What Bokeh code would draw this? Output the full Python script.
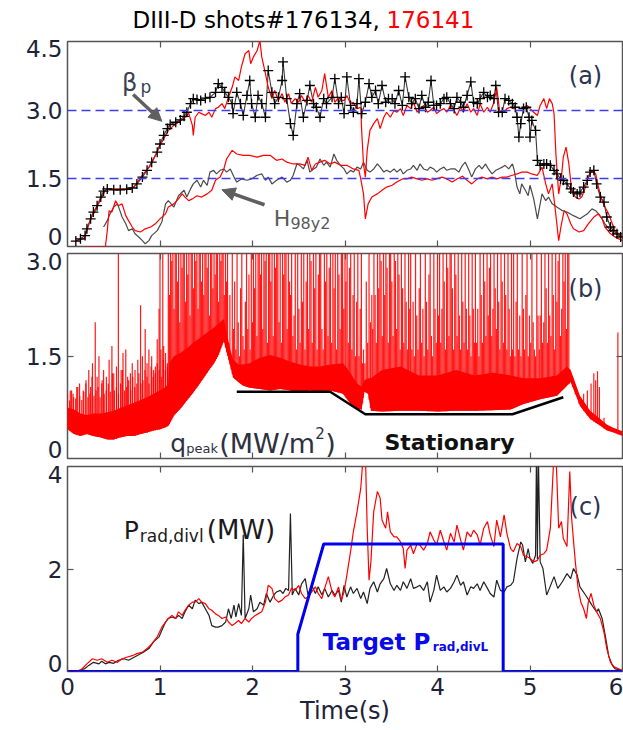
import numpy as np
from bokeh.plotting import figure
from bokeh.layouts import column
from bokeh.models import (Label, Arrow, NormalHead, LinearAxis, FixedTicker, Range1d, Span,
                          CustomJSTickFormatter)
from bokeh.embed import file_html
from bokeh.resources import INLINE

# ---------------- (a) poloidal beta and H98y2 ----------------
betap_134_t = [0.09, 0.14, 0.19, 0.21, 0.25, 0.28, 0.32, 0.36, 0.39, 0.43,
               0.50, 0.57, 0.64, 0.70, 0.75, 0.81, 0.86, 0.91, 0.97, 1.00,
               1.04, 1.08, 1.11, 1.17, 1.22, 1.26, 1.29, 1.33, 1.36, 1.40,
               1.44, 1.49, 1.54, 1.60, 1.63, 1.67, 1.70, 1.74, 1.78, 1.79,
               1.83, 1.87, 1.90, 1.94, 1.97, 1.99, 2.03, 2.06, 2.10, 2.14,
               2.17, 2.21, 2.24, 2.28, 2.32, 2.33, 2.37, 2.41, 2.44, 2.48,
               2.51, 2.55, 2.59, 2.62, 2.66, 2.69, 2.73, 2.77, 2.80, 2.86,
               2.89, 2.93, 2.96, 2.99, 3.02, 3.06, 3.09, 3.13, 3.15, 3.18,
               3.22, 3.26, 3.29, 3.33, 3.36, 3.40, 3.44, 3.47, 3.51, 3.54,
               3.58, 3.62, 3.65, 3.69, 3.72, 3.76, 3.80, 3.83, 3.87, 3.90,
               3.93, 3.96, 3.99, 4.03, 4.07, 4.10, 4.14, 4.18, 4.21, 4.25,
               4.28, 4.32, 4.36, 4.39, 4.43, 4.46, 4.50, 4.54, 4.57, 4.61,
               4.63, 4.66, 4.70, 4.73, 4.77, 4.81, 4.84, 4.86, 4.88, 4.90,
               4.93, 4.96, 4.99, 5.00, 5.02, 5.06, 5.08, 5.11, 5.15, 5.18,
               5.22, 5.26, 5.29, 5.33, 5.36, 5.40, 5.44, 5.47, 5.51, 5.54,
               5.58, 5.62, 5.65, 5.69, 5.72, 5.76, 5.80, 5.83, 5.87, 5.90,
               5.94, 5.98]
betap_134 = [0.12, 0.17, 0.24, 0.39, 0.61, 0.76, 0.90, 1.09, 1.22, 1.27,
             1.25, 1.25, 1.26, 1.29, 1.38, 1.53, 1.68, 1.86, 2.08, 2.26,
             2.45, 2.60, 2.69, 2.74, 2.79, 2.87, 2.96, 3.15, 3.26, 3.24,
             3.22, 3.27, 3.29, 3.40, 3.59, 3.51, 3.40, 3.29, 3.15, 2.93,
             3.40, 3.15, 2.89, 3.33, 3.66, 3.15, 2.85, 3.33, 3.15, 2.85,
             3.88, 3.40, 3.15, 3.29, 3.66, 4.07, 3.26, 2.71, 2.45, 3.15,
             3.37, 2.85, 3.22, 3.55, 3.15, 3.07, 2.85, 3.26, 3.15, 3.29,
             3.70, 3.15, 3.29, 2.93, 3.74, 3.11, 2.96, 3.15, 3.70, 2.93,
             3.18, 3.59, 3.29, 3.44, 3.15, 3.55, 3.18, 3.26, 3.26, 3.15,
             3.44, 3.11, 3.74, 3.29, 3.15, 3.26, 3.04, 3.33, 3.07, 3.18,
             3.66, 3.11, 3.11, 3.15, 3.26, 3.29, 3.15, 3.04, 3.29, 3.18,
             3.07, 3.33, 3.63, 3.18, 3.15, 3.26, 3.40, 3.29, 3.33, 3.26,
             3.55, 2.96, 2.96, 3.26, 3.22, 3.15, 3.07, 2.85, 2.41, 2.71,
             3.04, 3.07, 2.85, 2.41, 2.78, 2.56, 1.90, 1.79, 1.82, 1.82,
             1.79, 1.68, 1.60, 1.49, 1.46, 1.38, 1.27, 1.20, 1.16, 1.20,
             1.31, 1.46, 1.64, 1.68, 1.38, 1.09, 0.98, 0.65, 0.43, 0.35,
             0.28, 0.21]

betap_141_t = [0.10, 0.18, 0.21, 0.25, 0.30, 0.36, 0.41, 0.46, 0.55, 0.64,
               0.72, 0.77, 0.82, 0.90, 0.95, 1.00, 1.06, 1.09, 1.15, 1.20,
               1.26, 1.31, 1.35, 1.36, 1.38, 1.42, 1.45, 1.49, 1.53, 1.56,
               1.60, 1.63, 1.67, 1.70, 1.74, 1.78, 1.81, 1.85, 1.88, 1.92,
               1.96, 1.98, 2.01, 2.05, 2.08, 2.10, 2.14, 2.17, 2.21, 2.24,
               2.28, 2.32, 2.35, 2.39, 2.42, 2.46, 2.50, 2.53, 2.57, 2.60,
               2.64, 2.68, 2.71, 2.75, 2.78, 2.82, 2.86, 2.89, 2.93, 2.96,
               2.99, 3.02, 3.06, 3.09, 3.13, 3.17, 3.18, 3.20, 3.22, 3.24,
               3.27, 3.31, 3.35, 3.38, 3.42, 3.45, 3.49, 3.53, 3.56, 3.60,
               3.63, 3.67, 3.71, 3.74, 3.78, 3.81, 3.85, 3.89, 3.92, 3.96,
               3.99, 4.03, 4.07, 4.10, 4.14, 4.18, 4.21, 4.25, 4.28, 4.32,
               4.36, 4.39, 4.43, 4.46, 4.50, 4.54, 4.57, 4.61, 4.64, 4.67,
               4.72, 4.75, 4.79, 4.82, 4.86, 4.91, 4.97, 5.00, 5.04, 5.08,
               5.11, 5.15, 5.18, 5.21, 5.24, 5.26, 5.28, 5.31, 5.34, 5.36,
               5.39, 5.42, 5.45, 5.49, 5.53, 5.56, 5.60, 5.63, 5.67, 5.71,
               5.74, 5.78, 5.81, 5.85, 5.89, 5.92, 5.96, 6.00]
betap_141 = [0.13, 0.17, 0.35, 0.61, 0.79, 1.05, 1.24, 1.27, 1.27, 1.27,
             1.31, 1.46, 1.60, 1.79, 2.01, 2.23, 2.45, 2.56, 2.67, 2.74,
             2.82, 2.94, 2.67, 2.45, 2.85, 2.96, 2.93, 2.89, 2.96, 2.85,
             3.04, 3.07, 3.15, 3.04, 3.29, 3.51, 3.74, 3.66, 3.96, 4.25,
             4.32, 4.03, 4.18, 4.32, 4.54, 4.18, 3.81, 3.51, 3.26, 3.44,
             3.22, 3.37, 3.18, 3.37, 3.15, 3.26, 3.18, 3.33, 3.18, 3.33,
             3.18, 3.51, 3.29, 3.44, 3.81, 3.29, 3.44, 3.18, 3.29, 3.22,
             3.22, 3.33, 3.15, 3.18, 3.04, 3.07, 2.56, 1.82, 1.53, 2.12,
             2.56, 2.71, 2.82, 2.60, 2.85, 2.96, 2.85, 3.00, 2.96, 3.04,
             2.89, 3.11, 3.04, 3.18, 2.96, 3.04, 3.11, 2.96, 3.00, 3.07,
             2.93, 3.00, 3.04, 2.96, 3.11, 3.00, 2.89, 3.07, 2.96, 3.15,
             2.96, 3.04, 2.89, 3.15, 2.96, 3.07, 2.96, 3.18, 3.51, 3.00,
             2.96, 3.04, 3.07, 3.04, 3.07, 3.04, 3.11, 3.04, 2.96, 2.89,
             3.11, 3.26, 3.04, 3.26, 3.15, 2.93, 2.04, 1.16, 1.53, 1.97,
             2.19, 1.82, 1.24, 1.09, 1.05, 1.09, 1.31, 1.53, 1.68, 1.60,
             1.31, 1.01, 0.87, 0.72, 0.50, 0.35, 0.28, 0.21]

h98_134_t = [0.39, 0.43, 0.46, 0.50, 0.54, 0.56, 0.59, 0.63, 0.66, 0.70,
             0.73, 0.77, 0.81, 0.84, 0.88, 0.91, 0.97, 1.02, 1.06, 1.09,
             1.15, 1.20, 1.26, 1.29, 1.33, 1.36, 1.40, 1.44, 1.47, 1.51,
             1.54, 1.58, 1.61, 1.65, 1.69, 1.72, 1.76, 1.80, 1.83, 1.88,
             1.94, 1.99, 2.05, 2.10, 2.14, 2.17, 2.21, 2.26, 2.32, 2.37,
             2.41, 2.44, 2.48, 2.51, 2.55, 2.59, 2.62, 2.66, 2.69, 2.73,
             2.77, 2.80, 2.84, 2.88, 2.91, 2.95, 2.99, 3.02, 3.06, 3.09,
             3.13, 3.17, 3.20, 3.24, 3.27, 3.31, 3.35, 3.38, 3.42, 3.45,
             3.49, 3.53, 3.56, 3.60, 3.63, 3.67, 3.71, 3.74, 3.78, 3.81,
             3.85, 3.89, 3.92, 3.96, 3.99, 4.03, 4.07, 4.10, 4.14, 4.19,
             4.23, 4.27, 4.30, 4.34, 4.37, 4.41, 4.45, 4.48, 4.52, 4.55,
             4.59, 4.63, 4.66, 4.70, 4.73, 4.77, 4.81, 4.83, 4.86, 4.89,
             4.91, 4.95, 4.98, 5.00, 5.04, 5.08, 5.11, 5.13, 5.17, 5.20,
             5.24, 5.29, 5.35, 5.40, 5.47, 5.54, 5.62, 5.67, 5.71, 5.74,
             5.78, 5.81, 5.87, 5.92, 6.00]
h98_134 = [0.43, 0.57, 0.72, 0.87, 0.94, 0.83, 0.65, 0.50, 0.35, 0.39,
           0.28, 0.21, 0.13, 0.06, 0.13, 0.24, 0.35, 0.54, 0.94, 1.01,
           0.87, 1.12, 1.24, 1.09, 1.27, 1.38, 1.46, 1.31, 1.46, 1.35,
           1.64, 1.68, 1.60, 1.68, 1.71, 1.64, 1.71, 1.53, 1.42, 1.49,
           1.46, 1.49, 1.57, 1.60, 1.46, 1.53, 1.38, 1.46, 1.53, 1.42,
           1.46, 1.57, 1.82, 1.79, 1.71, 1.90, 1.64, 1.71, 1.75, 1.93,
           1.79, 1.86, 1.75, 2.04, 1.90, 1.79, 1.71, 1.60, 1.68, 1.64,
           1.75, 1.71, 1.86, 1.68, 1.64, 1.71, 1.82, 1.75, 1.64, 1.68,
           1.64, 1.71, 1.64, 1.71, 1.60, 1.68, 1.71, 1.79, 1.68, 1.82,
           1.71, 1.68, 1.75, 1.71, 1.64, 1.71, 1.75, 1.68, 1.71, 1.71,
           1.64, 1.79, 1.86, 1.68, 1.53, 1.71, 1.79, 1.71, 1.82, 1.71,
           1.60, 1.68, 1.71, 1.75, 1.79, 1.71, 1.82, 1.68, 1.31, 1.16,
           1.38, 1.24, 1.12, 1.35, 1.05, 0.61, 0.94, 1.16, 1.01, 1.09,
           0.94, 0.87, 0.79, 0.76, 0.68, 0.61, 0.72, 0.83, 0.79, 0.72,
           0.61, 0.50, 0.35, 0.28, 0.21]

h98_141_t = [0.21, 0.41, 0.43, 0.45, 0.48, 0.52, 0.55, 0.59, 0.63, 0.66,
             0.70, 0.73, 0.79, 0.84, 0.90, 0.95, 1.00, 1.06, 1.09, 1.15,
             1.20, 1.24, 1.27, 1.31, 1.35, 1.40, 1.45, 1.51, 1.56, 1.60,
             1.65, 1.69, 1.72, 1.78, 1.83, 1.90, 1.97, 2.05, 2.12, 2.19,
             2.26, 2.32, 2.37, 2.44, 2.51, 2.57, 2.60, 2.64, 2.68, 2.73,
             2.78, 2.84, 2.89, 2.95, 3.02, 3.09, 3.15, 3.17, 3.20, 3.22,
             3.25, 3.29, 3.35, 3.40, 3.45, 3.51, 3.56, 3.62, 3.67, 3.72,
             3.78, 3.83, 3.89, 3.94, 3.99, 4.05, 4.10, 4.16, 4.21, 4.27,
             4.32, 4.37, 4.43, 4.48, 4.54, 4.59, 4.64, 4.70, 4.75, 4.81,
             4.86, 4.91, 4.97, 5.02, 5.08, 5.13, 5.17, 5.20, 5.24, 5.27,
             5.31, 5.34, 5.37, 5.40, 5.44, 5.47, 5.53, 5.58, 5.63, 5.69,
             5.74, 5.78, 5.81, 5.87, 5.92, 6.00]
h98_141 = [0.00, 0.00, 0.35, 0.79, 0.76, 1.01, 0.90, 0.94, 0.68, 0.57,
           0.43, 0.35, 0.32, 0.39, 0.43, 0.50, 0.61, 0.72, 0.87, 0.94,
           1.05, 1.16, 1.09, 1.01, 1.05, 1.12, 1.09, 1.16, 1.24, 1.46,
           1.53, 1.71, 1.93, 2.12, 2.04, 2.01, 2.01, 1.97, 2.01, 2.01,
           1.90, 1.93, 1.86, 1.82, 1.82, 1.79, 1.97, 1.68, 1.82, 1.86,
           1.90, 1.82, 1.86, 1.79, 1.79, 1.71, 1.68, 1.49, 1.16, 0.61,
           0.94, 1.09, 1.16, 1.24, 1.31, 1.35, 1.42, 1.49, 1.49, 1.53,
           1.49, 1.46, 1.49, 1.46, 1.49, 1.53, 1.49, 1.42, 1.49, 1.55,
           1.46, 1.38, 1.49, 1.53, 1.49, 1.53, 1.49, 1.53, 1.53, 1.57,
           1.60, 1.64, 1.64, 1.60, 1.57, 1.75, 1.38, 1.16, 1.38, 0.87,
           0.13, 0.50, 0.79, 0.72, 0.50, 0.39, 0.32, 0.35, 0.50, 0.65,
           0.72, 0.61, 0.43, 0.28, 0.21, 0.13]

reference_levels = [1.5, 3.0]

# ---------------- (b) peak divertor heat flux, shot 176141 ----------------
q_env_t = [0.00, 0.07, 0.14, 0.21, 0.28, 0.36, 0.43, 0.50, 0.57, 0.64,
           0.72, 0.79, 0.86, 0.93, 1.00, 1.06, 1.09, 1.10, 1.15, 1.22,
           1.29, 1.36, 1.44, 1.51, 1.58, 1.63, 1.69, 1.72, 1.76, 1.79,
           1.85, 1.90, 1.97, 2.08, 2.19, 2.30, 2.41, 2.51, 2.62, 2.73,
           2.84, 2.98, 3.06, 3.13, 3.18, 3.21, 3.25, 3.28, 3.40, 3.60,
           3.80, 4.00, 4.20, 4.40, 4.60, 4.79, 4.93, 5.11, 5.29, 5.40,
           5.44, 5.54, 5.65, 5.76, 5.83, 5.90, 6.00]
q_floor = [0.43, 0.36, 0.33, 0.36, 0.33, 0.31, 0.28, 0.28, 0.31, 0.33,
           0.33, 0.36, 0.38, 0.41, 0.43, 0.46, 0.48, 0.50, 0.63, 0.73,
           0.85, 0.97, 1.12, 1.26, 1.39, 1.51, 1.73, 1.56, 1.36, 1.19,
           1.12, 1.07, 1.04, 1.02, 1.00, 1.02, 1.00, 0.97, 1.00, 0.97,
           1.00, 0.95, 0.80, 0.73, 0.72, 0.98, 0.95, 0.70, 0.69, 0.70,
           0.70, 0.69, 0.70, 0.70, 0.71, 0.72, 0.80, 0.87, 0.92, 1.07,
           1.12, 0.77, 0.58, 0.48, 0.41, 0.38, 0.33]
q_dense_top = [0.75, 0.72, 0.66, 0.64, 0.66, 0.66, 0.68, 0.70, 0.74, 0.78,
               0.82, 0.86, 0.90, 0.95, 1.00, 1.05, 1.10, 1.40, 1.50, 1.55,
               1.62, 1.70, 1.78, 1.85, 1.92, 1.98, 2.05, 1.85, 1.60, 1.45,
               1.38, 1.38, 1.40, 1.48, 1.52, 1.48, 1.42, 1.38, 1.35, 1.35,
               1.38, 1.40, 1.25, 1.10, 1.05, 1.15, 1.18, 1.18, 1.30, 1.35,
               1.22, 1.22, 1.30, 1.22, 1.26, 1.22, 1.18, 1.18, 1.22, 1.35,
               1.30, 0.92, 0.70, 0.58, 0.50, 0.45, 0.40]

# isolated ELM spikes before the heating step
q_elm_early_t = [0.03, 0.06, 0.10, 0.13, 0.17, 0.20, 0.23, 0.25, 0.27, 0.30,
                 0.32, 0.34, 0.37, 0.39, 0.42, 0.45, 0.48, 0.50, 0.53, 0.55,
                 0.58, 0.60, 0.63, 0.65, 0.68, 0.70, 0.73, 0.76, 0.79, 0.81,
                 0.84, 0.86, 0.88, 0.91, 0.93, 0.95, 0.97, 0.99, 1.00, 1.01,
                 1.03, 1.04, 1.06, 1.08]
q_elm_early = [1.00, 0.95, 1.05, 1.10, 1.00, 1.15, 1.30, 1.05, 1.40, 2.00,
               1.20, 1.50, 1.10, 1.30, 1.20, 1.45, 1.65, 1.25, 1.35, 3.10,
               1.30, 1.55, 1.60, 1.20, 1.25, 1.40, 1.30, 1.45, 2.25, 1.50,
               1.90, 1.40, 1.60, 1.50, 1.30, 1.35, 1.75, 2.20, 3.10, 1.60,
               3.10, 1.65, 1.55, 1.40]

# ELM peaks, evenly sampled over each time window (start, end)
q_elm_windows = [(0.00, 1.08), (1.09, 1.72), (1.73, 2.00), (2.01, 2.40), (2.41, 3.00),
                 (3.01, 3.19), (3.20, 3.29), (3.30, 3.70), (3.71, 4.00),
                 (4.01, 4.40), (4.41, 4.80), (4.81, 5.10), (5.11, 5.42)]
q_elm_peaks = [
    [0.95, 0.85, 1.00, 0.90, 0.88, 1.05, 0.92, 0.86, 0.98, 1.10, 0.90, 0.95, 1.20, 0.92, 1.00,
     1.05, 0.90, 1.15, 0.95, 1.00, 1.10, 0.98, 1.25, 1.00, 1.05, 0.95, 1.10, 1.30, 1.00, 1.05,
     1.15, 1.00, 1.20, 1.05, 1.10, 1.25, 1.10, 1.15, 1.30, 1.20, 1.10, 1.35, 1.20, 1.25, 1.40,
     1.30, 1.20, 1.45, 1.30, 1.35],
    [3.2, 2.4, 3.2, 2.9, 3.2, 2.2, 3.2, 3.2, 2.6, 3.2, 2.0, 3.2, 2.8, 3.2, 3.2, 2.3, 3.2, 2.7,
     3.2, 2.1, 3.2, 3.2, 2.5, 3.2, 2.9, 3.2, 2.2, 3.2, 3.2, 2.6, 3.2, 2.4, 3.2, 3.2, 2.8, 3.2,
     2.1, 3.2, 3.2, 2.5, 3.2, 2.7, 3.2, 3.2, 2.3, 3.2, 2.9, 3.2, 3.2, 2.4, 3.2, 2.6],
    [3.2, 1.7, 2.4, 1.5, 3.2, 1.9, 2.6, 1.6, 3.2, 2.0, 1.5, 2.5, 3.2, 1.8, 1.6, 2.3, 3.2, 1.9,
     2.7, 1.6, 3.2, 2.0],
    [3.2, 2.5, 3.2, 1.8, 3.2, 3.2, 2.7, 3.2, 1.9, 3.2, 2.9, 3.2, 1.7, 3.2, 3.2, 2.6, 3.2, 1.8,
     3.2, 2.8, 3.2, 3.2, 2.0, 3.2, 1.7, 3.2, 2.7, 3.2, 3.2, 1.9, 3.2, 2.6],
    [2.4, 3.2, 1.8, 2.1, 3.2, 1.6, 3.2, 2.2, 1.7, 3.2, 2.3, 3.2, 1.6, 2.6, 3.2, 1.9, 3.2, 2.9,
     1.7, 3.2, 2.5, 3.2, 1.6, 2.7, 3.2, 3.2, 1.9, 1.6, 3.2, 2.6, 3.2, 1.8, 2.8, 3.2, 1.7, 3.2,
     2.5, 3.2, 1.6, 3.2, 2.7, 1.9, 3.2, 3.2, 2.2, 3.2],
    [2.6, 3.2, 1.7, 2.8, 3.2, 1.6, 2.4, 3.2, 1.5, 2.3, 3.2, 1.5, 2.2, 3.2, 1.4],
    [1.6, 1.4, 2.6, 1.7, 3.2, 2.0, 2.4],
    [1.9, 3.2, 2.4, 1.7, 3.2, 2.5, 3.2, 2.9, 1.8, 3.2, 2.4, 3.2, 2.8, 1.7, 3.2, 3.2, 2.6, 1.8,
     3.2, 2.9, 1.9, 3.2, 2.7, 1.6, 3.2, 2.5, 1.7, 3.2, 2.3, 1.6, 3.2, 2.2],
    [3.2, 1.6, 2.3, 1.5, 3.2, 2.1, 1.6, 2.5, 3.2, 1.7, 2.2, 1.5, 3.2, 2.3, 1.6, 2.7, 3.2, 1.8,
     1.5, 3.2, 2.2, 1.7, 3.2],
    [2.1, 3.2, 1.7, 2.2, 3.2, 2.6, 1.6, 3.2, 2.8, 1.8, 3.2, 3.2, 2.5, 1.6, 3.2, 2.7, 1.8, 3.2,
     2.1, 1.6, 3.2, 2.3, 1.7, 3.2, 2.2, 1.6, 3.2, 2.1, 1.5, 3.2, 2.2, 1.7],
    [3.2, 1.7, 2.2, 1.5, 3.2, 2.4, 1.7, 3.2, 2.6, 1.8, 3.2, 2.1, 2.8, 3.2, 1.8, 2.2, 3.2, 2.5,
     1.9, 3.2, 2.3, 1.6, 3.2, 2.6, 1.7, 3.2, 2.4, 1.6, 3.2, 2.2, 1.5, 3.2],
    [1.6, 3.2, 1.5, 2.3, 3.2, 1.6, 2.1, 1.5, 3.2, 2.2, 1.6, 2.4, 3.2, 1.5, 2.1, 1.7, 3.2, 2.0,
     1.6, 1.5, 3.2, 2.1, 1.6],
    [2.1, 3.2, 1.7, 2.0, 3.2, 2.5, 1.7, 3.2, 2.1, 1.8, 3.2, 2.4, 1.6, 3.2, 2.3, 2.9, 3.2, 1.8,
     2.2, 3.2, 2.6, 3.2, 1.9, 3.2, 3.2],
]

# spikes during the ramp-down
q_elm_late_t = [5.46, 5.49, 5.53, 5.58, 5.62, 5.66, 5.69, 5.71, 5.73, 5.75, 5.80, 5.95]
q_elm_late = [1.20, 1.00, 0.90, 0.95, 1.00, 1.10, 1.25, 1.15, 1.28, 1.05, 0.60, 1.85]

stationary_t = [1.83, 2.84, 3.22, 4.81, 5.36]
stationary_q = [0.98, 0.98, 0.65, 0.65, 0.90]

# ---------------- (c) lower divertor radiated power ----------------
prad_134_t = [0.01, 0.10, 0.18, 0.23, 0.28, 0.34, 0.37, 0.41, 0.45, 0.50,
              0.55, 0.61, 0.66, 0.72, 0.77, 0.82, 0.88, 0.93, 0.99, 1.02,
              1.06, 1.09, 1.13, 1.17, 1.20, 1.24, 1.27, 1.31, 1.35, 1.38,
              1.42, 1.45, 1.49, 1.53, 1.56, 1.60, 1.63, 1.67, 1.71, 1.74,
              1.77, 1.80, 1.82, 1.85, 1.88, 1.90, 1.92, 1.96, 1.98, 2.01,
              2.05, 2.08, 2.12, 2.15, 2.19, 2.23, 2.26, 2.30, 2.33, 2.36,
              2.39, 2.41, 2.43, 2.46, 2.50, 2.53, 2.57, 2.60, 2.64, 2.68,
              2.71, 2.75, 2.78, 2.82, 2.86, 2.89, 2.93, 2.96, 2.99, 3.02,
              3.06, 3.09, 3.13, 3.17, 3.20, 3.24, 3.27, 3.31, 3.35, 3.38,
              3.42, 3.45, 3.49, 3.53, 3.56, 3.60, 3.63, 3.67, 3.71, 3.74,
              3.78, 3.81, 3.85, 3.89, 3.92, 3.96, 3.99, 4.03, 4.07, 4.10,
              4.14, 4.18, 4.21, 4.25, 4.28, 4.32, 4.36, 4.39, 4.43, 4.46,
              4.50, 4.54, 4.57, 4.61, 4.64, 4.68, 4.72, 4.75, 4.79, 4.82,
              4.86, 4.90, 4.92, 4.95, 4.98, 5.00, 5.03, 5.06, 5.07, 5.08,
              5.09, 5.11, 5.14, 5.18, 5.21, 5.26, 5.30, 5.35, 5.40, 5.44,
              5.47, 5.51, 5.54, 5.60, 5.65, 5.68, 5.72, 5.74, 5.78, 5.82,
              5.85, 5.89, 5.92, 6.00]
prad_134 = [0.00, 0.01, 0.05, 0.12, 0.18, 0.15, 0.20, 0.15, 0.18, 0.16,
            0.22, 0.25, 0.22, 0.28, 0.33, 0.38, 0.45, 0.58, 0.68, 0.81,
            0.97, 1.04, 1.07, 1.04, 1.10, 1.04, 1.17, 1.30, 1.23, 1.40,
            1.33, 1.36, 1.23, 1.10, 0.90, 0.87, 0.87, 0.90, 0.97, 1.23,
            1.04, 1.30, 1.07, 1.33, 1.10, 2.68, 1.04, 1.23, 1.50, 1.17,
            1.23, 1.36, 1.30, 1.53, 1.36, 1.50, 1.56, 1.59, 1.53, 1.63,
            1.59, 3.10, 1.50, 1.63, 1.50, 1.72, 1.82, 1.50, 1.69, 1.53,
            1.66, 1.50, 1.63, 1.46, 1.59, 1.50, 1.59, 1.36, 1.69, 1.46,
            1.66, 1.53, 1.63, 1.43, 1.56, 1.33, 1.63, 1.76, 1.56, 1.72,
            1.82, 2.02, 1.72, 1.59, 1.69, 1.59, 1.76, 1.63, 1.82, 1.63,
            1.66, 1.69, 1.59, 1.76, 1.36, 1.59, 1.89, 1.59, 1.66, 1.56,
            1.63, 1.76, 1.89, 1.69, 1.76, 1.50, 1.66, 1.63, 1.72, 1.59,
            1.76, 1.63, 1.53, 1.46, 1.79, 1.59, 1.56, 1.66, 1.69, 1.76,
            2.22, 2.54, 2.48, 2.15, 2.41, 2.22, 2.12, 2.28, 4.30, 2.20,
            4.30, 2.15, 2.02, 1.50, 1.63, 1.86, 1.63, 1.76, 1.92, 1.82,
            2.02, 1.89, 1.66, 1.50, 1.36, 1.27, 1.17, 1.23, 1.04, 0.64,
            0.31, 0.12, 0.05, 0.02]

prad_141_t = [0.01, 0.14, 0.21, 0.27, 0.32, 0.37, 0.43, 0.48, 0.54, 0.59,
              0.64, 0.70, 0.75, 0.81, 0.86, 0.91, 0.97, 1.02, 1.06, 1.09,
              1.13, 1.17, 1.20, 1.24, 1.27, 1.31, 1.35, 1.38, 1.42, 1.45,
              1.49, 1.53, 1.56, 1.60, 1.63, 1.67, 1.71, 1.74, 1.78, 1.81,
              1.85, 1.88, 1.92, 1.96, 1.99, 2.03, 2.06, 2.10, 2.14, 2.17,
              2.21, 2.24, 2.28, 2.32, 2.35, 2.39, 2.42, 2.46, 2.50, 2.53,
              2.57, 2.60, 2.64, 2.68, 2.71, 2.75, 2.78, 2.82, 2.86, 2.89,
              2.93, 2.96, 2.99, 3.02, 3.06, 3.09, 3.13, 3.17, 3.20, 3.22,
              3.24, 3.26, 3.28, 3.31, 3.35, 3.38, 3.40, 3.44, 3.46, 3.49,
              3.53, 3.56, 3.60, 3.63, 3.65, 3.67, 3.71, 3.74, 3.78, 3.81,
              3.85, 3.89, 3.92, 3.96, 3.99, 4.03, 4.07, 4.10, 4.14, 4.18,
              4.21, 4.25, 4.28, 4.32, 4.36, 4.39, 4.43, 4.46, 4.50, 4.54,
              4.57, 4.61, 4.64, 4.68, 4.72, 4.75, 4.79, 4.82, 4.86, 4.90,
              4.93, 4.97, 5.00, 5.04, 5.08, 5.11, 5.15, 5.18, 5.22, 5.26,
              5.28, 5.31, 5.34, 5.36, 5.40, 5.43, 5.45, 5.49, 5.52, 5.55,
              5.58, 5.61, 5.63, 5.66, 5.69, 5.72, 5.76, 5.80, 5.83, 5.87,
              5.91, 6.00]
prad_141 = [0.00, 0.02, 0.15, 0.25, 0.22, 0.25, 0.18, 0.22, 0.18, 0.25,
            0.28, 0.31, 0.35, 0.38, 0.45, 0.54, 0.68, 0.87, 0.97, 1.04,
            1.10, 1.04, 1.17, 1.10, 1.20, 1.30, 1.36, 1.36, 1.43, 1.36,
            1.33, 1.23, 1.20, 1.13, 1.10, 1.04, 1.07, 0.97, 0.90, 0.94,
            1.00, 0.94, 1.04, 0.97, 1.04, 1.10, 1.13, 1.17, 1.36, 1.69,
            1.63, 1.43, 1.36, 1.40, 1.46, 1.50, 1.63, 1.59, 1.69, 1.53,
            1.43, 1.46, 1.56, 1.66, 1.53, 1.43, 1.63, 1.86, 1.56, 1.46,
            1.66, 1.40, 1.56, 1.89, 2.35, 2.74, 3.13, 3.59, 4.30, 4.30,
            2.81, 1.79, 2.15, 3.13, 3.53, 3.40, 2.97, 2.81, 3.13, 2.74,
            2.64, 2.64, 2.54, 2.41, 2.02, 2.38, 2.48, 2.31, 2.51, 2.48,
            2.38, 2.51, 2.74, 2.58, 2.48, 2.77, 2.54, 2.38, 2.71, 2.54,
            2.87, 2.58, 2.38, 2.74, 2.64, 2.77, 2.68, 2.48, 2.81, 2.94,
            2.68, 2.45, 2.97, 2.64, 3.07, 2.71, 2.41, 2.35, 2.51, 2.45,
            2.28, 2.25, 2.22, 2.15, 2.18, 2.28, 2.31, 2.38, 2.81, 4.30,
            4.30, 2.81, 2.94, 2.61, 2.45, 3.92, 3.00, 2.15, 1.63, 1.36,
            1.23, 1.04, 1.36, 1.53, 1.30, 1.17, 1.04, 0.77, 0.45, 0.18,
            0.09, 0.02]

target_t = [0.0, 2.49, 2.49, 2.77, 4.71, 4.71, 6.0]
target_prad = [0.0, 0.0, 0.73, 2.5, 2.5, 0.0, 0.0]

x_tick_values = [0, 1, 2, 3, 4, 5, 6]
y_ticks_a = [0, 1.5, 3.0, 4.5]
y_ticks_b = [0, 1.5, 3.0]
y_ticks_c = [0, 2, 4]
y_tick_text_a = ["0", "1.5", "3.0", "4.5"]
y_tick_text_b = ["0", "1.5", "3.0"]
y_tick_text_c = ["0", "2", "4"]

# ---------------- styling helpers ----------------
FONT = "DejaVu Sans"
TICK_TEXT = "#1e2236"
FRAME = "#555555"
RED = "#ff0000"
FRAME_W, FRAME_H = 555, 205


def tick_axis(ticks):
    """Axis that only draws short inward tick marks."""
    ax = LinearAxis(ticker=FixedTicker(ticks=ticks))
    ax.axis_line_color = None
    ax.major_tick_in = 6
    ax.major_tick_out = 0
    ax.major_tick_line_color = FRAME
    ax.major_tick_line_width = 1.2
    ax.minor_tick_line_color = None
    ax.major_label_text_color = None
    ax.major_label_text_font_size = "1px"
    ax.major_label_standoff = 0
    return ax


def label_axis(ticks, texts, y_top, nudge_bottom, nudge_top):
    """Axis carrying only the y tick labels; the end labels sit just inside the frame."""
    ppu = FRAME_H / y_top
    pos = list(ticks)
    pos[0] = ticks[0] + nudge_bottom / ppu
    pos[-1] = ticks[-1] - nudge_top / ppu
    ax = LinearAxis(ticker=FixedTicker(ticks=pos),
                    formatter=CustomJSTickFormatter(args=dict(labels=texts),
                                                    code="return labels[index]"))
    ax.axis_line_color = None
    ax.major_tick_line_color = None
    ax.major_tick_in = 0
    ax.major_tick_out = 0
    ax.minor_tick_line_color = None
    ax.major_label_text_font = FONT
    ax.major_label_text_font_size = "23px"
    ax.major_label_text_color = TICK_TEXT
    ax.major_label_standoff = 5
    return ax


def make_panel(y_top, ticks, texts, nudges, border_top, border_bottom, x_labels=False):
    p = figure(frame_width=FRAME_W, frame_height=FRAME_H, x_range=Range1d(0, 6),
               y_range=Range1d(0, y_top), min_border_left=67, min_border_right=1,
               min_border_top=border_top, min_border_bottom=border_bottom,
               x_axis_location=None, y_axis_location=None,
               output_backend="svg", toolbar_location=None)
    p.grid.grid_line_color = None
    p.outline_line_color = FRAME
    p.outline_line_width = 1.5
    p.background_fill_color = "white"
    p.border_fill_color = "white"
    inner = ticks[1:-1]
    if x_labels:
        bottom = LinearAxis(ticker=FixedTicker(ticks=x_tick_values))
        bottom.axis_line_color = None
        bottom.major_tick_in = 6
        bottom.major_tick_out = 0
        bottom.major_tick_line_color = FRAME
        bottom.major_tick_line_width = 1.2
        bottom.minor_tick_line_color = None
        bottom.major_label_text_font = FONT
        bottom.major_label_text_font_size = "23px"
        bottom.major_label_text_color = TICK_TEXT
        bottom.major_label_standoff = 6
        bottom.axis_label = "Time(s)"
        bottom.axis_label_text_font = FONT
        bottom.axis_label_text_font_size = "24px"
        bottom.axis_label_text_font_style = "normal"
        bottom.axis_label_text_color = TICK_TEXT
        bottom.axis_label_standoff = -1
    else:
        bottom = tick_axis([1, 2, 3, 4, 5])
    p.add_layout(bottom, "below")
    p.add_layout(tick_axis([1, 2, 3, 4, 5]), "above")
    p.add_layout(tick_axis(inner), "left")
    p.add_layout(label_axis(ticks, texts, y_top, *nudges), "left")
    p.add_layout(tick_axis(inner), "right")
    return p


def text(p, x, y, s, size, color, dx=0, dy=0, align="left", baseline="alphabetic", bold=False):
    p.add_layout(Label(x=x, y=y, x_offset=dx, y_offset=dy, text=s, text_align=align,
                       text_baseline=baseline, text_font=FONT, text_font_size=f"{size}px",
                       text_color=color, text_font_style="bold" if bold else "normal"))


# ---------------- heading ----------------
head = figure(frame_width=623, frame_height=37, x_range=Range1d(0, 623), y_range=Range1d(0, 37),
              min_border=0, x_axis_location=None, y_axis_location=None,
              output_backend="svg", toolbar_location=None)
head.grid.grid_line_color = None
head.outline_line_color = None
head.add_layout(Label(x=65, y=18, text="DIII-D shots#176134, ", text_font=FONT,
                      text_font_size="23px", text_color="black", text_baseline="middle"))
head.add_layout(Label(x=319, y=18, text="176141", text_font=FONT,
                      text_font_size="23px", text_color=RED, text_baseline="middle"))

# ---------------- panel (a) ----------------
pa = make_panel(4.52, y_ticks_a, y_tick_text_a, (10, 6), 4, 3)
for lvl in reference_levels:
    pa.add_layout(Span(location=lvl, dimension="width", line_color="#3c3cf0",
                       line_width=1.5, line_dash="9 5"))
pa.line(h98_134_t, h98_134, line_color="#4a4a4a", line_width=1.2)
pa.line(h98_141_t, h98_141, line_color=RED, line_width=1.2)
pa.line(betap_134_t, betap_134, line_color="#3a3a3a", line_width=1.1)
pa.line(betap_141_t, betap_141, line_color=RED, line_width=1.2)
pa.scatter(betap_134_t, betap_134, marker="cross", size=10, line_color="black", line_width=1.3)

arrow_gray = "#5f5f5f"
pa.add_layout(Arrow(end=NormalHead(size=13, fill_color=arrow_gray, line_color=arrow_gray),
                    x_start=0.71, y_start=3.35, x_end=1.02, y_end=2.76,
                    line_color=arrow_gray, line_width=3.5))
pa.add_layout(Arrow(end=NormalHead(size=13, fill_color=arrow_gray, line_color=arrow_gray),
                    x_start=2.13, y_start=0.92, x_end=1.67, y_end=1.25,
                    line_color=arrow_gray, line_width=3.5))
text(pa, 0.59, 3.60, "β", 24, "#3b4053")
text(pa, 0.79, 3.60, "p", 17, "#3b4053", dy=-4)
text(pa, 2.23, 0.61, "H", 22, "#595959")
text(pa, 2.41, 0.61, "98y2", 16, "#595959", dy=-5)
text(pa, 5.60, 3.77, "(a)", 24, "#2d3452", align="center", baseline="middle")

# ---------------- panel (b) ----------------
pb = make_panel(3.01, y_ticks_b, y_tick_text_b, (9, 7), 4, 4)
pb.varea(x=q_env_t, y1=q_floor, y2=q_dense_top, fill_color=RED)
spike_t = list(q_elm_early_t)
spike_q = list(q_elm_early)
for (t0, t1), peaks in zip(q_elm_windows, q_elm_peaks):
    spike_t += list(np.linspace(t0, t1, len(peaks)))
    spike_q += peaks
spike_t += q_elm_late_t
spike_q += q_elm_late
spike_foot = np.interp(spike_t, q_env_t, q_floor)
pb.segment(x0=spike_t, y0=spike_foot, x1=spike_t, y1=spike_q, line_color=RED,
           line_width=1.2, line_alpha=0.9)
pb.line(stationary_t, stationary_q, line_color="black", line_width=2.5)

text(pb, 5.60, 2.49, "(b)", 24, "#2d3452", align="center", baseline="middle")
text(pb, 1.11, 0.22, "q", 25, "#2e3140")
text(pb, 1.11, 0.22, "peak", 13, "#2e3140", dx=16, dy=-5)
text(pb, 1.11, 0.22, "(MW/m", 27, "#2e3140", dx=49)
text(pb, 1.11, 0.22, "2", 15, "#2e3140", dx=145, dy=11)
text(pb, 1.11, 0.22, ")", 27, "#2e3140", dx=155)
text(pb, 4.13, 0.235, "Stationary", 22, "#111111", align="center", bold=True)

# ---------------- panel (c) ----------------
pc = make_panel(4.02, y_ticks_c, y_tick_text_c, (8, 7), 4, 60, x_labels=True)
pc.line(prad_134_t, prad_134, line_color="#222222", line_width=1.2)
pc.line(prad_141_t, prad_141, line_color=RED, line_width=1.2)
pc.line(target_t, target_prad, line_color="#0000ee", line_width=3)

text(pc, 5.60, 3.22, "(c)", 24, "#2d3452", align="center", baseline="middle")
text(pc, 0.608, 2.77, "P", 25, "#1a1a1a")
text(pc, 0.608, 2.77, "rad,divl", 17, "#1a1a1a", dx=16, dy=-6)
text(pc, 0.608, 2.77, "(MW)", 26, "#1a1a1a", dx=83)
text(pc, 2.76, 0.58, "Target P", 23, "#0a0ae6", bold=True)
text(pc, 2.76, 0.58, "rad,divL", 12, "#0a0ae6", dx=110, dy=-5, bold=True)

layout = column(head, pa, pb, pc, spacing=0)
open("out.html", "w").write(file_html(layout, INLINE))
